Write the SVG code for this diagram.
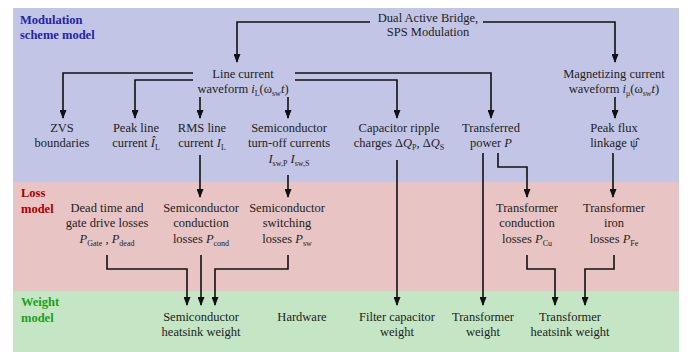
<svg xmlns="http://www.w3.org/2000/svg" width="700" height="352" viewBox="0 0 700 352" font-family="Liberation Serif, serif">
  <style>
    .t { font-size: 12.5px; fill: #222; text-anchor: middle; }
    .lbl { font-size: 12.5px; font-weight: bold; }
    .i { font-style: italic; }
    .s { font-size: 8px; }
    .c { fill: none; stroke: #111; stroke-width: 1.6; marker-end: url(#arr); }
  </style>
  <defs>
    <marker id="arr" markerUnits="userSpaceOnUse" viewBox="0 0 9 7" markerWidth="9" markerHeight="7" refX="8" refY="3.5" orient="auto">
      <path d="M0,0 L9,3.5 L0,7 z" fill="#111"/>
    </marker>
  </defs>

  <!-- model bands -->
  <g id="bands">
    <rect x="13" y="8" width="666" height="174" fill="#c3c5e6"/>
    <rect x="13" y="182" width="666" height="109" fill="#e8c4c4"/>
    <rect x="13" y="291" width="666" height="61" fill="#c4e6c4"/>
  </g>

  <g id="band-labels">
    <text class="lbl" x="20" y="24" fill="#2424a8">Modulation</text>
    <text class="lbl" x="20" y="39" fill="#2424a8">scheme model</text>
    <text class="lbl" x="21" y="197" fill="#a80000">Loss</text>
    <text class="lbl" x="21" y="213" fill="#a80000">model</text>
    <text class="lbl" x="21" y="306" fill="#1ca01c">Weight</text>
    <text class="lbl" x="21" y="322" fill="#1ca01c">model</text>
  </g>

  <!-- connectors -->
  <g id="connectors">
    <path class="c" d="M370 22 H237 V62"/>
    <path class="c" d="M483 22 H615 V62"/>
    <path class="c" d="M193 73 H63 V118"/>
    <path class="c" d="M193 80 H135 V118"/>
    <path class="c" d="M200 97 V118"/>
    <path class="c" d="M288 97 V118"/>
    <path class="c" d="M295 73 H491 V118"/>
    <path class="c" d="M295 80 H397 V118"/>
    <path class="c" d="M615 97 V118"/>
    <path class="c" d="M200 155 V197"/>
    <path class="c" d="M288 175 V197"/>
    <path class="c" d="M397 160 V305"/>
    <path class="c" d="M483 153 V305"/>
    <path class="c" d="M498 153 V167 H527 V197"/>
    <path class="c" d="M613 153 V197"/>
    <path class="c" d="M107 255 V269 H187 V305"/>
    <path class="c" d="M201 255 V305"/>
    <path class="c" d="M288 255 V269 H215 V305"/>
    <path class="c" d="M527 255 V269 H555 V305"/>
    <path class="c" d="M614 255 V269 H585 V305"/>
  </g>

  <!-- modulation scheme model -->
  <g id="dab">
    <text class="t" x="428" y="22">Dual Active Bridge,</text>
    <text class="t" x="428" y="36">SPS Modulation</text>
  </g>
  <g id="line-current">
    <text class="t" x="243" y="78">Line current</text>
    <text class="t" x="243" y="93">waveform <tspan class="i">i</tspan><tspan class="s" dy="3">L</tspan><tspan dy="-3">(ω</tspan><tspan class="s" dy="3">sw</tspan><tspan class="i" dy="-3">t</tspan>)</text>
  </g>
  <g id="mag-current">
    <text class="t" x="614" y="78">Magnetizing current</text>
    <text class="t" x="614" y="93">waveform <tspan class="i">i</tspan><tspan class="s" dy="3">μ</tspan><tspan dy="-3">(ω</tspan><tspan class="s" dy="3">sw</tspan><tspan class="i" dy="-3">t</tspan>)</text>
  </g>
  <g id="zvs">
    <text class="t" x="62" y="132">ZVS</text>
    <text class="t" x="62" y="147">boundaries</text>
  </g>
  <g id="peak-current">
    <text class="t" x="136" y="132">Peak line</text>
    <text class="t" x="136" y="147">current <tspan class="i">Î</tspan><tspan class="s" dy="3">L</tspan></text>
  </g>
  <g id="rms-current">
    <text class="t" x="202" y="132">RMS line</text>
    <text class="t" x="202" y="147">current <tspan class="i">I</tspan><tspan class="s" dy="3">L</tspan></text>
  </g>
  <g id="turnoff-currents">
    <text class="t" x="289" y="132">Semiconductor</text>
    <text class="t" x="289" y="147">turn-off currents</text>
    <text class="t" x="289" y="163"><tspan class="i">I</tspan><tspan class="s" dy="3">sw,P</tspan><tspan dy="-3"> </tspan><tspan class="i">I</tspan><tspan class="s" dy="3">sw,S</tspan></text>
  </g>
  <g id="ripple-charges">
    <text class="t" x="399" y="132">Capacitor ripple</text>
    <text class="t" x="399" y="147">charges Δ<tspan class="i">Q</tspan><tspan class="s" dy="3">P</tspan><tspan dy="-3">, Δ</tspan><tspan class="i">Q</tspan><tspan class="s" dy="3">S</tspan></text>
  </g>
  <g id="power">
    <text class="t" x="491" y="132">Transferred</text>
    <text class="t" x="491" y="147">power <tspan class="i">P</tspan></text>
  </g>
  <g id="flux">
    <text class="t" x="614" y="132">Peak flux</text>
    <text class="t" x="614" y="147">linkage ψ&#x302;</text>
  </g>

  <!-- loss model -->
  <g id="gate-losses">
    <text class="t" x="107" y="212">Dead time and</text>
    <text class="t" x="107" y="227">gate drive losses</text>
    <text class="t" x="107" y="243"><tspan class="i">P</tspan><tspan class="s" dy="3">Gate</tspan><tspan dy="-3"> , </tspan><tspan class="i">P</tspan><tspan class="s" dy="3">dead</tspan></text>
  </g>
  <g id="cond-losses">
    <text class="t" x="201" y="212">Semiconductor</text>
    <text class="t" x="201" y="227">conduction</text>
    <text class="t" x="201" y="243">losses <tspan class="i">P</tspan><tspan class="s" dy="3">cond</tspan></text>
  </g>
  <g id="sw-losses">
    <text class="t" x="287" y="212">Semiconductor</text>
    <text class="t" x="287" y="227">switching</text>
    <text class="t" x="287" y="243">losses <tspan class="i">P</tspan><tspan class="s" dy="3">sw</tspan></text>
  </g>
  <g id="cu-losses">
    <text class="t" x="527" y="212">Transformer</text>
    <text class="t" x="527" y="227">conduction</text>
    <text class="t" x="527" y="243">losses <tspan class="i">P</tspan><tspan class="s" dy="3">Cu</tspan></text>
  </g>
  <g id="fe-losses">
    <text class="t" x="614" y="212">Transformer</text>
    <text class="t" x="614" y="227">iron</text>
    <text class="t" x="614" y="243">losses <tspan class="i">P</tspan><tspan class="s" dy="3">Fe</tspan></text>
  </g>

  <!-- weight model -->
  <g id="semi-heatsink">
    <text class="t" x="201" y="321">Semiconductor</text>
    <text class="t" x="201" y="336">heatsink weight</text>
  </g>
  <g id="hardware">
    <text class="t" x="302" y="321">Hardware</text>
  </g>
  <g id="filter-cap">
    <text class="t" x="397" y="321">Filter capacitor</text>
    <text class="t" x="397" y="336">weight</text>
  </g>
  <g id="transformer-weight">
    <text class="t" x="483" y="321">Transformer</text>
    <text class="t" x="483" y="336">weight</text>
  </g>
  <g id="transformer-heatsink">
    <text class="t" x="570" y="321">Transformer</text>
    <text class="t" x="570" y="336">heatsink weight</text>
  </g>
</svg>
